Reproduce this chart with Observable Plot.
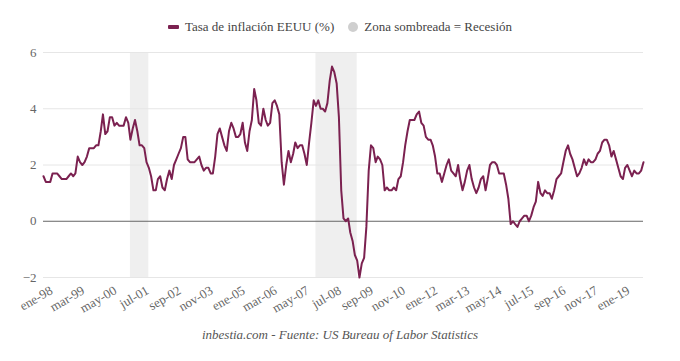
<!DOCTYPE html>
<html>
<head>
<meta charset="utf-8">
<script src="https://cdn.jsdelivr.net/npm/d3@7"></script>
<script src="https://cdn.jsdelivr.net/npm/@observablehq/plot@0.6"></script>
<style>
  body { margin: 0; background: #fff; }
  #wrap { width: 680px; height: 361px; position: relative; }
  #legend { height: 40px; display: flex; justify-content: center; align-items: center; font-size: 13px; color: #444; padding-top: 14px; box-sizing: border-box; }
  .item { display: flex; align-items: center; margin: 0 7px; }
  .swl { width: 11px; height: 4px; background: #7b2150; border-radius: 1px; margin-right: 6px; }
  .swc { width: 10px; height: 10px; background: #cfcfcf; border-radius: 50%; margin-right: 6px; }
  #caption { text-align: center; font-style: italic; font-size: 13px; color: #555; margin-top: 12px; }
</style>
</head>
<body>
<div id="wrap">
  <div id="legend">
    <div class="item"><span class="swl"></span><span class="ser">Tasa de inflación EEUU (%)</span></div>
    <div class="item"><span class="swc"></span><span class="ser">Zona sombreada = Recesión</span></div>
  </div>
  <div id="chart"></div>
  <div id="caption" class="ser">inbestia.com - Fuente: US Bureau of Labor Statistics</div>
</div>
<script>
// Monthly series: US CPI inflation (% yoy), starting January 1998
const startYear = 1998;
const inflation = [
  1.6, 1.4, 1.4, 1.4, 1.7, 1.7, 1.7, 1.6, 1.5, 1.5, 1.5, 1.6,
  1.7, 1.6, 1.7, 2.3, 2.1, 2.0, 2.1, 2.3, 2.6, 2.6, 2.6, 2.7,
  2.7, 3.2, 3.8, 3.1, 3.2, 3.7, 3.7, 3.4, 3.5, 3.4, 3.4, 3.4,
  3.7, 3.5, 2.9, 3.3, 3.6, 3.2, 2.7, 2.7, 2.6, 2.1, 1.9, 1.6,
  1.1, 1.1, 1.5, 1.6, 1.2, 1.1, 1.5, 1.8, 1.5, 2.0, 2.2, 2.4,
  2.6, 3.0, 3.0, 2.2, 2.1, 2.1, 2.1, 2.2, 2.3, 2.0, 1.8, 1.9,
  1.9, 1.7, 1.7, 2.3, 3.1, 3.3, 3.0, 2.7, 2.5, 3.2, 3.5, 3.3,
  3.0, 3.0, 3.1, 3.5, 2.8, 2.5, 3.2, 3.6, 4.7, 4.3, 3.5, 3.4,
  4.0, 3.6, 3.4, 3.5, 4.2, 4.3, 4.1, 3.8, 2.1, 1.3, 2.0, 2.5,
  2.1, 2.4, 2.8, 2.6, 2.7, 2.7, 2.4, 2.0, 2.8, 3.5, 4.3, 4.1,
  4.3, 4.0, 4.0, 3.9, 4.2, 5.0, 5.5, 5.3, 4.9, 3.7, 1.1, 0.1,
  0.0, 0.1, -0.4, -0.7, -1.2, -1.4, -2.0, -1.5, -1.3, -0.2, 1.8, 2.7,
  2.6, 2.1, 2.3, 2.2, 2.0, 1.1, 1.2, 1.1, 1.1, 1.2, 1.1, 1.5,
  1.6, 2.1, 2.7, 3.2, 3.6, 3.6, 3.6, 3.8, 3.9, 3.5, 3.4, 3.0,
  2.9, 2.9, 2.7, 2.3, 1.7, 1.7, 1.4, 1.7, 2.0, 2.2, 1.8, 1.7,
  1.6, 2.0, 1.5, 1.1, 1.4, 1.8, 2.0, 1.5, 1.2, 1.0, 1.2, 1.5,
  1.6, 1.1, 1.5, 2.0, 2.1, 2.1, 2.0, 1.7, 1.7, 1.7, 1.3, 0.8,
  -0.1, 0.0, -0.1, -0.2, 0.0, 0.1, 0.2, 0.2, 0.0, 0.2, 0.5, 0.7,
  1.4, 1.0, 0.9, 1.1, 1.0, 1.0, 0.8, 1.1, 1.5, 1.6, 1.7, 2.1,
  2.5, 2.7, 2.4, 2.2, 1.9, 1.6, 1.7, 1.9, 2.2, 2.0, 2.2, 2.1,
  2.1, 2.2, 2.4, 2.5, 2.8, 2.9, 2.9, 2.7, 2.3, 2.5, 2.2, 1.9,
  1.6, 1.5, 1.9, 2.0, 1.8, 1.6, 1.8, 1.7, 1.7, 1.8, 2.1
];
// Recession periods (start, end) as "YYYY-MM"
const recessionStart = ["2001-03", "2007-12"];
const recessionEnd = ["2001-11", "2009-06"];
// X-axis tick labels
const tickLabels = ["ene-98","mar-99","may-00","jul-01","sep-02","nov-03","ene-05","mar-06","may-07","jul-08","sep-09","nov-10","ene-12","mar-13","may-14","jul-15","sep-16","nov-17","ene-19"];
const yTicks = [-2, 0, 2, 4, 6];

const monthAbbr = ["ene","feb","mar","abr","may","jun","jul","ago","sep","oct","nov","dic"];
const data = inflation.map((v, i) => ({date: new Date(startYear, i, 1), value: v}));
const parseYM = s => { const [y, m] = s.split("-").map(Number); return new Date(y, m - 1, 1); };
const recessions = recessionStart.map((s, i) => ({start: parseYM(s), end: parseYM(recessionEnd[i])}));
const tickDates = tickLabels.map(l => { const [m, y] = l.split("-"); return new Date(2000 + +y - (+y > 50 ? 100 : 0), monthAbbr.indexOf(m), 1); });
const fmt = d => monthAbbr[d.getMonth()] + "-" + String(d.getFullYear() % 100).padStart(2, "0");
const serif = "'Liberation Serif'";

const chart = Plot.plot({
  width: 680,
  height: 275,
  marginLeft: 43,
  marginRight: 37,
  marginTop: 12,
  marginBottom: 38,
  style: {fontSize: "13px", color: "#666", background: "#fff"},
  x: {type: "time", domain: [data[0].date, data[data.length - 1].date], label: null},
  y: {domain: [-2, 6], label: null},
  marks: [
    Plot.rect(recessions, {x1: "start", x2: "end", y1: -2, y2: 6, fill: "#efefef"}),
    Plot.ruleY(yTicks.filter(t => t !== 0), {stroke: "#e6e6e6", strokeWidth: 1}),
    Plot.ruleY([0], {stroke: "#666", strokeWidth: 1}),
    Plot.axisY(yTicks, {tickSize: 0, tickPadding: 7, fill: "#666", fontSize: 13, label: null}),
    Plot.axisX(tickDates, {tickSize: 0, tickRotate: -30, tickPadding: 12, dx: 8, tickFormat: fmt, fill: "#666", fontSize: 13, label: null}),
    Plot.line(data, {x: "date", y: "value", stroke: "#7b2150", strokeWidth: 2, curve: "linear"})
  ]
});
document.getElementById("chart").appendChild(chart);
document.querySelectorAll("#wrap, #wrap *").forEach(el => el.style.setProperty("font-family", serif, "important"));
</script>
</body>
</html>
